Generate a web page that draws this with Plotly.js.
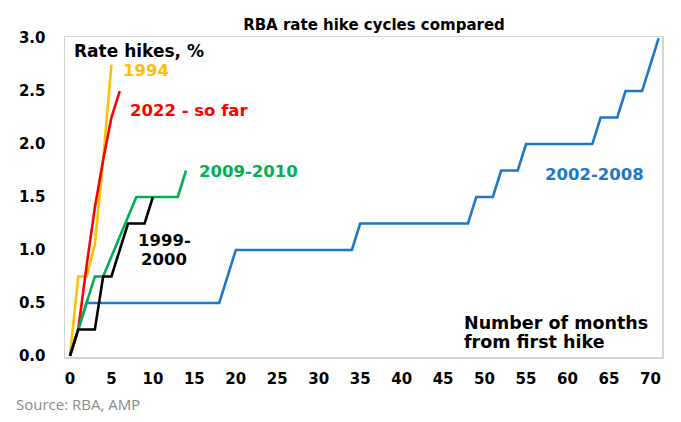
<!DOCTYPE html>
<html>
<head>
<meta charset="utf-8">
<script src="https://cdn.plot.ly/plotly-3.0.1.min.js"></script>
<style>
html,body{margin:0;padding:0;background:#fff;}
#chart{width:681px;height:422px;}
</style>
</head>
<body>
<div id="chart"></div>
<script>
// Data (months from first hike, cumulative hikes in %)
const months0208 = [0,1,2,18,19,20,34,35,48,49,51,52,54,55,63,64,66,67,69,70,71];
const hikes0208  = [0,0.25,0.5,0.5,0.75,1.0,1.0,1.25,1.25,1.5,1.5,1.75,1.75,2.0,2.0,2.25,2.25,2.5,2.5,2.75,3.0];

const months1994 = [0,1,2,3,4,5];
const hikes1994  = [0,0.75,0.75,1.05,1.85,2.75];

const months2022 = [0,1,2,3,4,5,6];
const hikes2022  = [0,0.25,0.85,1.4,1.85,2.25,2.5];

const months0910 = [0,1,2,3,4,8,13,14];
const hikes0910  = [0,0.25,0.5,0.75,0.75,1.5,1.5,1.75];

const months9900 = [0,1,3,4,5,7,9,10];
const hikes9900  = [0,0.25,0.25,0.75,0.75,1.25,1.25,1.5];

const seriesNames = ['2002-2008','1994','2022 - so far','2009-2010','1999-2000'];
const xTicks = [0,5,10,15,20,25,30,35,40,45,50,55,60,65,70];
const yTicks = [0,0.5,1.0,1.5,2.0,2.5,3.0];
const yTickText = ['0.0','0.5','1.0','1.5','2.0','2.5','3.0'];

const colors = {blue:'#1F77C9', yellow:'#FFC000', red:'#FF0000', green:'#00B050', black:'#000000'};
const LW = 2.6;

const traces = [
  {x: months0208, y: hikes0208, name: seriesNames[0], mode:'lines', line:{color:colors.blue, width:LW}},
  {x: months1994, y: hikes1994, name: seriesNames[1], mode:'lines', line:{color:colors.yellow, width:LW}},
  {x: months2022, y: hikes2022, name: seriesNames[2], mode:'lines', line:{color:colors.red, width:LW}},
  {x: months0910, y: hikes0910, name: seriesNames[3], mode:'lines', line:{color:colors.green, width:LW}},
  {x: months9900, y: hikes9900, name: seriesNames[4], mode:'lines', line:{color:colors.black, width:LW}}
];

const F = 'DejaVu Sans';
function lab(text, x, y, color, size, xanchor){
  return {text:'<b>'+text+'</b>', x:x, y:y, xref:'x', yref:'y', showarrow:false,
          xanchor:xanchor||'left', yanchor:'middle',
          font:{family:F, size:size, color:color}};
}

const layout = {
  width:681, height:422,
  margin:{l:65, r:19, t:37, b:65, pad:0},
  paper_bgcolor:'#ffffff', plot_bgcolor:'#ffffff',
  showlegend:false,
  title:{text:'<b>RBA rate hike cycles compared</b>', font:{family:F, size:15, color:'#000'},
         xref:'paper', x:0.5176, xanchor:'center', yref:'container', y:0.9408, yanchor:'middle'},
  xaxis:{range:[-0.6,71.4], tickvals:xTicks, ticktext:xTicks.map(String),
         showgrid:false, zeroline:false, showline:true, mirror:true, linecolor:'#d4d4d4', linewidth:1.5,
         ticks:'outside', ticklen:7, tickcolor:'rgba(0,0,0,0)',
         tickfont:{family:F, size:15, color:'#000', weight:'bold'}, fixedrange:true},
  yaxis:{range:[-0.01,3.01], tickvals:yTicks, ticktext:yTickText,
         showgrid:false, zeroline:false, showline:true, mirror:true, linecolor:'#d4d4d4', linewidth:1.5,
         ticks:'outside', ticklen:15, tickcolor:'rgba(0,0,0,0)',
         tickfont:{family:F, size:15, color:'#000', weight:'bold'}, fixedrange:true},
  annotations:[
    lab('Rate hikes, %', 0.24, 2.877, '#000', 17),
    lab('1994', 6.11, 2.69, colors.yellow, 16.5),
    lab('2022 - so far', 7.03, 2.32, colors.red, 16.5),
    lab('2009-2010', 15.36, 1.745, colors.green, 16.5),
    lab('2002-2008', 57.07, 1.708, colors.blue, 16.5),
    lab('1999-', 11.45, 1.088, '#000', 16.5, 'center'),
    lab('2000', 11.36, 0.906, '#000', 16.5, 'center'),
    lab('Number of months', 47.25, 0.314, '#000', 17.5),
    lab('from first hike', 47.25, 0.135, '#000', 17.5),
    {text:'Source: RBA, AMP', xref:'paper', yref:'paper', x:-0.0854, y:-0.147, xanchor:'left', yanchor:'middle',
     showarrow:false, font:{family:'Open Sans', size:15, color:'#8a8a8a'}}
  ]
};

Plotly.newPlot('chart', traces, layout, {displayModeBar:false, staticPlot:true});
</script>
</body>
</html>
